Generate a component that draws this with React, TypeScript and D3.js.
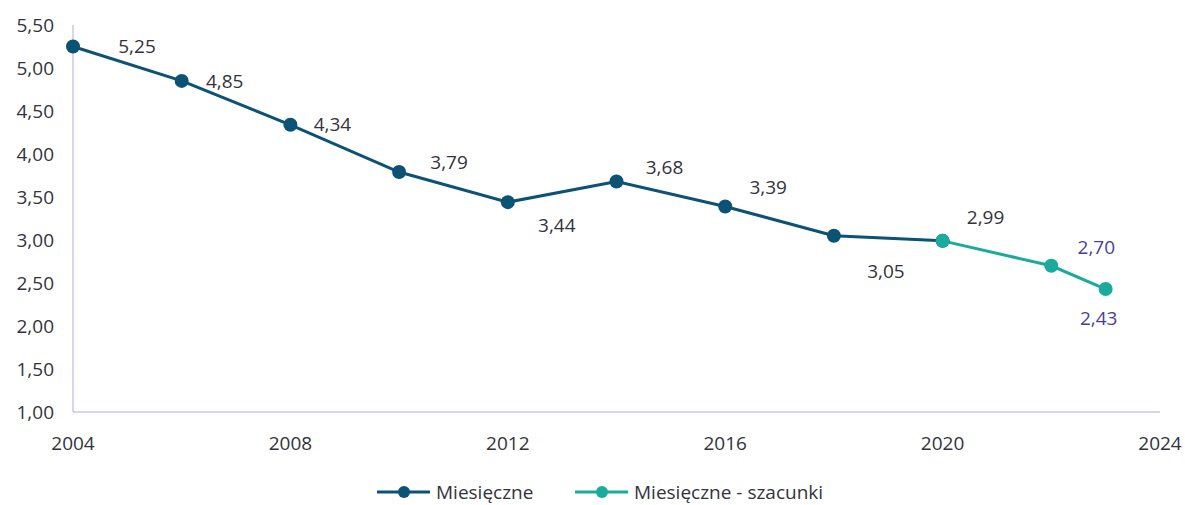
import React from 'react';
import * as d3 from 'd3';

// Observed values (Miesięczne) and estimates (szacunki)
const years: number[] = [2004, 2006, 2008, 2010, 2012, 2014, 2016, 2018, 2020];
const monthly: number[] = [5.25, 4.85, 4.34, 3.79, 3.44, 3.68, 3.39, 3.05, 2.99];
const estYears: number[] = [2020, 2022, 2023];
const estimates: number[] = [2.99, 2.70, 2.43];
const xTicks: number[] = [2004, 2008, 2012, 2016, 2020, 2024];
const yTicks: number[] = [1, 1.5, 2, 2.5, 3, 3.5, 4, 4.5, 5, 5.5];
const legendLabels: string[] = ['Miesięczne', 'Miesięczne - szacunki'];

const W = 1185;
const H = 505;
const DARK = '#0b5275';
const TEAL = '#1aab9d';
const TEXT = '#33333d';
const PURPLE = '#4a3f96';
const AXIS = '#cbc6f0';
const FONT = '"Open Sans", sans-serif';
const FS = 19;

const fmt = (v: number) => v.toFixed(2).replace('.', ',');

// label placement relative to each point [dx, dy]
const labelPos: [number, number][] = [
  [64, 0], [43, 0], [42, 0], [50, -10], [49, 23], [48, -14], [43, -19], [52, 36], [43, -24],
];
const estLabelPos: [number, number][] = [[0, 0], [45, -18], [-7, 29]];

const App: React.FC = () => {
  const x = d3.scaleLinear().domain([2004, 2024]).range([73, 1160]);
  const y = d3.scaleLinear().domain([1, 5.5]).range([412, 25]);

  const line = d3.line<[number, number]>()
    .x(d => x(d[0]))
    .y(d => y(d[1]));

  const mainPts: [number, number][] = years.map((yr, i) => [yr, monthly[i]]);
  const estPts: [number, number][] = estYears.map((yr, i) => [yr, estimates[i]]);

  return (
    <svg width={W} height={H} style={{ position: 'absolute', left: 0, top: 0, background: '#fff' }}
      fontFamily={FONT}>
      {/* axes */}
      <line x1={x(2004)} x2={x(2004)} y1={y(5.5)} y2={y(1)} stroke={AXIS} strokeWidth={1.5} />
      <line x1={x(2004)} x2={x(2024)} y1={y(1)} y2={y(1)} stroke={AXIS} strokeWidth={1.5} />
      {yTicks.map(t => (
        <text key={t} x={54} y={y(t)} dy="0.35em" textAnchor="end" fontSize={FS} fill={TEXT}>
          {fmt(t)}
        </text>
      ))}
      {xTicks.map(t => (
        <text key={t} x={x(t)} y={443} dy="0.35em" textAnchor="middle" fontSize={FS} fill={TEXT}>
          {t}
        </text>
      ))}

      {/* series */}
      <path d={line(mainPts) ?? ''} fill="none" stroke={DARK} strokeWidth={3} />
      <path d={line(estPts) ?? ''} fill="none" stroke={TEAL} strokeWidth={3} />
      {mainPts.map((p, i) => (
        <circle key={'m' + i} cx={x(p[0])} cy={y(p[1])} r={7} fill={DARK} />
      ))}
      {estPts.map((p, i) => (
        <circle key={'e' + i} cx={x(p[0])} cy={y(p[1])} r={7} fill={TEAL} />
      ))}

      {/* data labels */}
      {mainPts.map((p, i) => (
        <text key={'lm' + i} x={x(p[0]) + labelPos[i][0]} y={y(p[1]) + labelPos[i][1]} dy="0.35em"
          textAnchor="middle" fontSize={FS} fill={TEXT}>
          {fmt(p[1])}
        </text>
      ))}
      {estPts.slice(1).map((p, i) => (
        <text key={'le' + i} x={x(p[0]) + estLabelPos[i + 1][0]} y={y(p[1]) + estLabelPos[i + 1][1]}
          dy="0.35em" textAnchor="middle" fontSize={FS} fill={PURPLE}>
          {fmt(p[1])}
        </text>
      ))}

      {/* legend */}
      {[DARK, TEAL].map((c, i) => {
        const lx = i === 0 ? 377 : 575;
        return (
          <g key={'lg' + i}>
            <line x1={lx} x2={lx + 53} y1={492} y2={492} stroke={c} strokeWidth={3} />
            <circle cx={lx + 27} cy={492} r={6} fill={c} />
            <text x={lx + 59} y={492} dy="0.35em" fontSize={FS} fill={TEXT}>{legendLabels[i]}</text>
          </g>
        );
      })}
    </svg>
  );
};

export default App;
